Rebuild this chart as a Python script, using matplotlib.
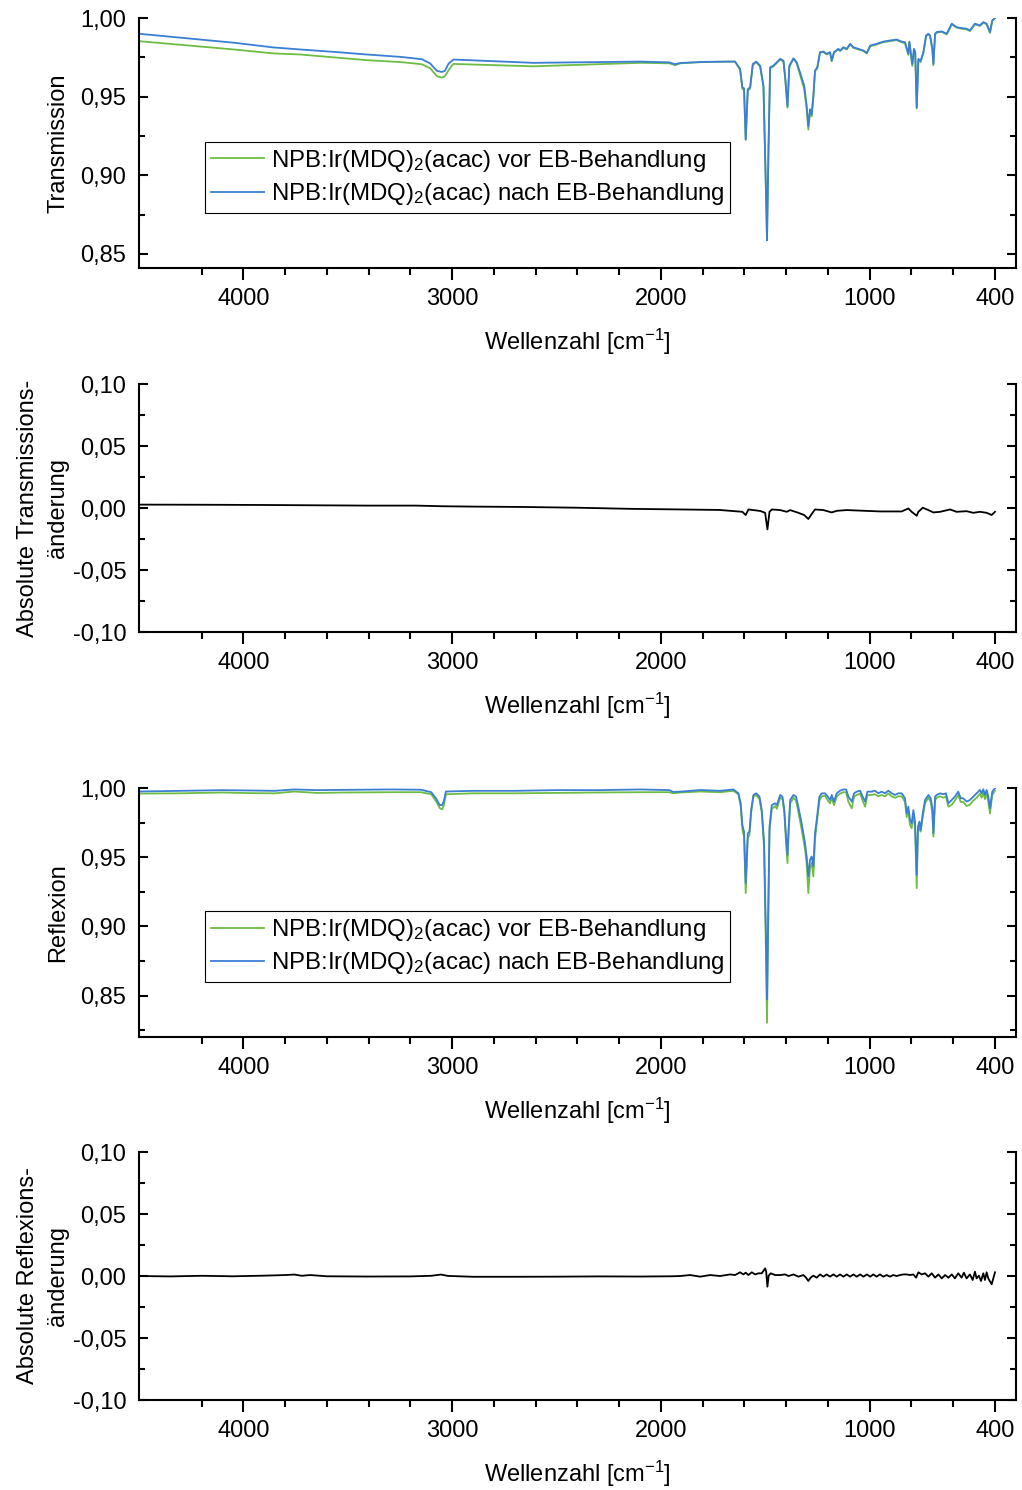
import matplotlib
matplotlib.use("Agg")
import matplotlib.pyplot as plt
from matplotlib.ticker import FixedLocator, MultipleLocator, FuncFormatter

plt.rcParams['font.family'] = ['Liberation Sans', 'DejaVu Sans']
plt.rcParams['mathtext.fontset'] = 'custom'
plt.rcParams['mathtext.rm'] = 'Liberation Sans'
plt.rcParams['mathtext.it'] = 'Liberation Sans:italic'
plt.rcParams['font.size'] = 17

# ---- data ----
# Transmission spectra
T_wn = [4500, 4046, 3856, 3727, 3569, 3408, 3248, 3145, 3105, 3073, 3049, 3035, 3017, 3001,
        2993, 2612, 2100, 1960, 1932, 1908, 1800, 1669, 1645, 1621, 1610, 1602, 1594, 1584,
        1573, 1560, 1544, 1525, 1509, 1496, 1492, 1485, 1477, 1461, 1445, 1429, 1413, 1404,
        1394, 1385, 1365, 1350, 1334, 1314, 1302, 1294, 1286, 1278, 1270, 1262, 1251, 1238,
        1222, 1206, 1190, 1182, 1171, 1150, 1142, 1126, 1110, 1094, 1078, 1054, 1030, 1014,
        998, 967, 935, 903, 871, 847, 831, 815, 810, 802, 796, 788, 782, 775, 767, 756,
        743, 730, 719, 711, 700, 695, 687, 679, 655, 631, 607, 584, 560, 536, 520, 496,
        472, 456, 440, 424, 413, 400]
T_nach = [0.9900, 0.9843, 0.9813, 0.9800, 0.9785, 0.9768, 0.9753, 0.9738, 0.9711, 0.9664,
          0.9657, 0.9664, 0.9710, 0.9728, 0.9736, 0.9715, 0.9723, 0.9718, 0.9706, 0.9714,
          0.9721, 0.9723, 0.9723, 0.9676, 0.9559, 0.9553, 0.9229, 0.9548, 0.9559, 0.9708,
          0.9723, 0.9697, 0.9570, 0.8846, 0.8586, 0.9165, 0.9687, 0.9697, 0.9719, 0.9740,
          0.9729, 0.9612, 0.9438, 0.9697, 0.9744, 0.9719, 0.9655, 0.9570, 0.9442, 0.9310,
          0.9420, 0.9388, 0.9506, 0.9666, 0.9687, 0.9783, 0.9787, 0.9772, 0.9783, 0.9729,
          0.9783, 0.9804, 0.9793, 0.9814, 0.9804, 0.9836, 0.9814, 0.9804, 0.9793, 0.9778,
          0.9825, 0.9836, 0.9850, 0.9857, 0.9863, 0.9850, 0.9846, 0.9772, 0.9850, 0.9766,
          0.9708, 0.9804, 0.9783, 0.9431, 0.9740, 0.9729, 0.9783, 0.9889, 0.9900, 0.9889,
          0.9804, 0.9708, 0.9900, 0.9911, 0.9915, 0.9900, 0.9964, 0.9942, 0.9936, 0.9932,
          0.9921, 0.9964, 0.9953, 0.9974, 0.9964, 0.9911, 0.9985, 1.0000]
T_vor = [0.9853, 0.9800, 0.9775, 0.9768, 0.9750, 0.9732, 0.9720, 0.9706, 0.9680, 0.9630,
         0.9621, 0.9630, 0.9669, 0.9698, 0.9708, 0.9693, 0.9715, 0.9712, 0.9700, 0.9712,
         0.9720, 0.9723, 0.9723, 0.9670, 0.9550, 0.9545, 0.9225, 0.9540, 0.9550, 0.9700,
         0.9720, 0.9692, 0.9560, 0.8840, 0.8590, 0.9160, 0.9680, 0.9692, 0.9715, 0.9736,
         0.9722, 0.9600, 0.9430, 0.9690, 0.9740, 0.9712, 0.9640, 0.9550, 0.9420, 0.9290,
         0.9400, 0.9375, 0.9495, 0.9660, 0.9682, 0.9780, 0.9784, 0.9768, 0.9780, 0.9725,
         0.9780, 0.9800, 0.9790, 0.9810, 0.9800, 0.9832, 0.9810, 0.9800, 0.9790, 0.9774,
         0.9820, 0.9832, 0.9846, 0.9853, 0.9860, 0.9846, 0.9840, 0.9765, 0.9845, 0.9755,
         0.9695, 0.9798, 0.9776, 0.9425, 0.9732, 0.9720, 0.9778, 0.9885, 0.9896, 0.9885,
         0.9798, 0.9700, 0.9896, 0.9907, 0.9912, 0.9896, 0.9960, 0.9939, 0.9932, 0.9928,
         0.9917, 0.9960, 0.9950, 0.9970, 0.9960, 0.9905, 0.9982, 1.0000]

# Absolute Transmissionsaenderung
dT_wn = [4500, 4200, 3900, 3600, 3400, 3172, 3050, 2900, 2660, 2400, 2147, 1908, 1720,
         1610, 1594, 1581, 1525, 1501, 1490, 1480, 1469, 1429, 1397, 1381, 1342, 1314,
         1294, 1278, 1262, 1222, 1182, 1158, 1110, 950, 847, 815, 799, 775, 767, 746,
         719, 695, 663, 615, 584, 536, 504, 472, 440, 416, 400]
dT = [0.0028, 0.0027, 0.0025, 0.0022, 0.0020, 0.0020, 0.0015, 0.0012, 0.0009, 0.0003,
      -0.0006, -0.0011, -0.0015, -0.0030, -0.0056, -0.0011, -0.0023, -0.0038, -0.0172,
      -0.0030, -0.0011, -0.0016, -0.0030, -0.0016, -0.0038, -0.0056, -0.0088, -0.0048,
      -0.0011, -0.0016, -0.0035, -0.0022, -0.0016, -0.0027, -0.0027, -0.0003, -0.0030,
      -0.0062, -0.0030, 0.0003, -0.0016, -0.0035, -0.0030, -0.0011, -0.0030, -0.0025,
      -0.0038, -0.0030, -0.0038, -0.0056, -0.0030]

# Reflexion spectra
R_wn = [4500, 4300, 4100, 3950, 3850, 3756, 3650, 3500, 3300, 3150, 3100, 3075, 3060, 3048,
        3040, 3030, 2900, 2700, 2500, 2300, 2100, 1960, 1942, 1908, 1812, 1717, 1653, 1629,
        1618, 1610, 1602, 1594, 1584, 1576, 1568, 1557, 1544, 1528, 1517, 1506, 1498, 1492,
        1485, 1480, 1469, 1453, 1445, 1429, 1418, 1409, 1401, 1394, 1388, 1381, 1365, 1353,
        1342, 1326, 1310, 1302, 1294, 1286, 1278, 1270, 1262, 1254, 1241, 1230, 1214, 1201,
        1190, 1182, 1171, 1158, 1142, 1126, 1113, 1102, 1086, 1075, 1062, 1046, 1034, 1022,
        1011, 991, 975, 959, 943, 927, 911, 895, 879, 863, 847, 831, 823, 815, 807, 799,
        791, 783, 775, 769, 762, 756, 746, 735, 719, 708, 700, 695, 687, 679, 663, 647,
        635, 623, 607, 592, 576, 564, 552, 536, 520, 504, 488, 472, 464, 456, 448, 440,
        432, 424, 413, 405, 400]
R_nach = [0.9975, 0.9980, 0.9985, 0.9982, 0.9980, 0.9990, 0.9985, 0.9987, 0.9990, 0.9988,
          0.9970, 0.9920, 0.9877, 0.9877, 0.9905, 0.9975, 0.9980, 0.9980, 0.9985, 0.9985,
          0.9990, 0.9985, 0.9972, 0.9974, 0.9986, 0.9980, 0.9990, 0.9962, 0.9890, 0.9733,
          0.9685, 0.9313, 0.9673, 0.9685, 0.9841, 0.9950, 0.9962, 0.9938, 0.9841, 0.9601,
          0.9001, 0.8472, 0.9241, 0.9721, 0.9877, 0.9890, 0.9877, 0.9950, 0.9938, 0.9841,
          0.9649, 0.9517, 0.9721, 0.9914, 0.9950, 0.9938, 0.9865, 0.9745, 0.9601, 0.9505,
          0.9361, 0.9481, 0.9505, 0.9433, 0.9673, 0.9769, 0.9938, 0.9962, 0.9962, 0.9938,
          0.9914, 0.9950, 0.9902, 0.9962, 0.9981, 0.9990, 0.9990, 0.9938, 0.9902, 0.9962,
          0.9974, 0.9981, 0.9938, 0.9902, 0.9974, 0.9974, 0.9981, 0.9962, 0.9974, 0.9962,
          0.9981, 0.9962, 0.9950, 0.9962, 0.9962, 0.9926, 0.9817, 0.9865, 0.9769, 0.9745,
          0.9841, 0.9757, 0.9373, 0.9721, 0.9757, 0.9697, 0.9817, 0.9914, 0.9950, 0.9926,
          0.9853, 0.9673, 0.9938, 0.9950, 0.9962, 0.9955, 0.9962, 0.9890, 0.9914, 0.9938,
          0.9974, 0.9926, 0.9926, 0.9902, 0.9914, 0.9938, 0.9962, 0.9986, 0.9962, 0.9991,
          0.9950, 0.9986, 0.9938, 0.9853, 0.9974, 0.9991, 0.9998]
R_vor = [0.9960, 0.9962, 0.9968, 0.9963, 0.9962, 0.9975, 0.9965, 0.9968, 0.9970, 0.9970,
         0.9955, 0.9900, 0.9856, 0.9846, 0.9875, 0.9955, 0.9962, 0.9962, 0.9965, 0.9968,
         0.9970, 0.9970, 0.9962, 0.9968, 0.9975, 0.9970, 0.9980, 0.9955, 0.9870, 0.9700,
         0.9650, 0.9241, 0.9640, 0.9660, 0.9820, 0.9940, 0.9950, 0.9920, 0.9820, 0.9570,
         0.8900, 0.8303, 0.9150, 0.9690, 0.9850, 0.9870, 0.9850, 0.9930, 0.9920, 0.9820,
         0.9610, 0.9457, 0.9690, 0.9890, 0.9930, 0.9910, 0.9830, 0.9700, 0.9560, 0.9450,
         0.9241, 0.9420, 0.9460, 0.9361, 0.9630, 0.9740, 0.9910, 0.9940, 0.9945, 0.9910,
         0.9890, 0.9930, 0.9877, 0.9940, 0.9960, 0.9970, 0.9970, 0.9900, 0.9853, 0.9940,
         0.9950, 0.9960, 0.9910, 0.9865, 0.9950, 0.9950, 0.9955, 0.9940, 0.9950, 0.9940,
         0.9960, 0.9940, 0.9930, 0.9940, 0.9940, 0.9900, 0.9790, 0.9840, 0.9733, 0.9710,
         0.9810, 0.9720, 0.9277, 0.9680, 0.9720, 0.9685, 0.9790, 0.9890, 0.9930, 0.9900,
         0.9820, 0.9649, 0.9910, 0.9930, 0.9940, 0.9930, 0.9940, 0.9865, 0.9880, 0.9910,
         0.9950, 0.9900, 0.9900, 0.9870, 0.9880, 0.9910, 0.9930, 0.9960, 0.9930, 0.9965,
         0.9920, 0.9960, 0.9900, 0.9817, 0.9950, 0.9970, 0.9980]

# Absolute Reflexionsaenderung
dR_wn = [4500, 4350, 4200, 4050, 3900, 3800, 3756, 3720, 3680, 3600, 3400, 3200, 3100,
         3054, 3020, 2900, 2700, 2500, 2300, 2100, 1950, 1908, 1860, 1812, 1764, 1717,
         1669, 1645, 1621, 1605, 1594, 1581, 1565, 1549, 1533, 1517, 1501, 1496, 1490,
         1484, 1474, 1453, 1429, 1405, 1389, 1365, 1342, 1318, 1305, 1294, 1283, 1270,
         1254, 1238, 1222, 1206, 1190, 1174, 1158, 1142, 1126, 1110, 1094, 1078, 1062,
         1046, 1030, 1014, 998, 983, 967, 951, 935, 919, 903, 887, 871, 855, 839, 823,
         807, 791, 778, 767, 751, 735, 719, 703, 687, 671, 655, 639, 623, 607, 592, 576,
         560, 549, 536, 520, 507, 496, 488, 477, 467, 456, 448, 440, 432, 416, 400]
dR = [0.0000, -0.0003, 0.0002, -0.0002, 0.0003, 0.0008, 0.0012, 0.0002, 0.0008, -0.0002,
      -0.0004, -0.0003, 0.0002, 0.0012, 0.0001, -0.0006, -0.0006, -0.0005, -0.0003, -0.0004,
      -0.0002, 0.0000, 0.0008, -0.0005, 0.0008, 0.0000, 0.0013, 0.0008, 0.0030, 0.0013,
      0.0027, 0.0008, 0.0030, 0.0013, 0.0022, 0.0022, 0.0062, 0.0035, -0.0086, 0.0003,
      0.0022, 0.0008, 0.0008, 0.0013, 0.0000, 0.0013, -0.0005, 0.0008, -0.0013, -0.0040,
      -0.0013, 0.0003, -0.0013, 0.0013, -0.0005, 0.0013, -0.0005, 0.0013, -0.0005, 0.0013,
      -0.0005, 0.0013, -0.0005, 0.0013, -0.0005, 0.0013, -0.0005, 0.0013, -0.0005, 0.0013,
      -0.0005, 0.0013, -0.0005, 0.0008, -0.0005, 0.0008, 0.0000, 0.0008, 0.0013, 0.0013,
      0.0008, 0.0013, -0.0013, 0.0030, 0.0013, 0.0022, -0.0005, 0.0022, -0.0013, 0.0013,
      -0.0019, 0.0008, -0.0013, 0.0013, -0.0019, 0.0022, -0.0013, 0.0027, -0.0019, 0.0013,
      -0.0032, 0.0035, -0.0019, 0.0003, -0.0040, 0.0022, -0.0032, 0.0030, -0.0019, -0.0067,
      0.0030]

label_vor = 'NPB:Ir(MDQ)$_2$(acac) vor EB-Behandlung'
label_nach = 'NPB:Ir(MDQ)$_2$(acac) nach EB-Behandlung'
green = '#6dbd45'
blue = '#3a7fd5'


def komma(v, pos):
    return ('%.2f' % v).replace('.', ',')


def style_axis(ax, ylim, ymajor, yminor):
    ax.set_xlim(4500, 300)
    ax.set_ylim(*ylim)
    ax.xaxis.set_major_locator(FixedLocator([4000, 3000, 2000, 1000, 400]))
    ax.xaxis.set_minor_locator(FixedLocator([4200, 3800, 3600, 3400, 3200, 2800, 2600,
                                             2400, 2200, 1800, 1600, 1400, 1200, 800, 600]))
    ax.yaxis.set_major_locator(MultipleLocator(ymajor))
    ax.yaxis.set_minor_locator(MultipleLocator(yminor))
    ax.yaxis.set_major_formatter(FuncFormatter(komma))
    ax.spines['top'].set_visible(False)
    for s in ['left', 'right', 'bottom']:
        ax.spines[s].set_linewidth(1.5)
    ax.tick_params(axis='x', which='major', direction='out', length=8.5, width=1.5, pad=6)
    ax.tick_params(axis='x', which='minor', direction='out', length=5, width=1.5)
    ax.tick_params(axis='y', which='major', direction='in', length=6.5, width=1.5,
                   right=True, pad=9)
    ax.tick_params(axis='y', which='minor', direction='in', length=4, width=1.5, right=True)
    ax.set_xlabel('Wellenzahl [cm$^{-1}$]', labelpad=12)


def add_legend(ax):
    ax.legend(loc='lower left', bbox_to_anchor=(0.075, 0.22), borderaxespad=0,
              frameon=True, fancybox=False, edgecolor='black', framealpha=1,
              handlelength=2.2, handletextpad=0.3, borderpad=0.25, labelspacing=0.3,
              prop={'size': 17.3}).get_frame().set_linewidth(0.8)


fig = plt.figure(figsize=(10.22, 14.9), dpi=100)
ax1 = fig.add_axes([0.136, 0.8201, 0.858, 0.1678])
ax2 = fig.add_axes([0.136, 0.5758, 0.858, 0.1664])
ax3 = fig.add_axes([0.136, 0.3040, 0.858, 0.1671])
ax4 = fig.add_axes([0.136, 0.0604, 0.858, 0.1664])

# Transmission
ax1.plot(T_wn, T_vor, color=green, lw=1.3, label=label_vor)
ax1.plot(T_wn, T_nach, color=blue, lw=1.3, label=label_nach)
style_axis(ax1, (0.841, 1.0), 0.05, 0.025)
ax1.set_ylabel('Transmission', labelpad=8)
add_legend(ax1)

# Transmission change
ax2.plot(dT_wn, dT, color='black', lw=1.3)
style_axis(ax2, (-0.1, 0.1), 0.05, 0.025)
ax2.set_ylabel('Absolute Transmissions-\nänderung', labelpad=3, linespacing=1.45)

# Reflexion
ax3.plot(R_wn, R_vor, color=green, lw=1.3, label=label_vor)
ax3.plot(R_wn, R_nach, color=blue, lw=1.3, label=label_nach)
style_axis(ax3, (0.82, 1.0), 0.05, 0.025)
ax3.set_ylabel('Reflexion', labelpad=8)
add_legend(ax3)

# Reflexion change
ax4.plot(dR_wn, dR, color='black', lw=1.3)
style_axis(ax4, (-0.1, 0.1), 0.05, 0.025)
ax4.set_ylabel('Absolute Reflexions-\nänderung', labelpad=3, linespacing=1.45)

fig.savefig('out.png', dpi=100)
